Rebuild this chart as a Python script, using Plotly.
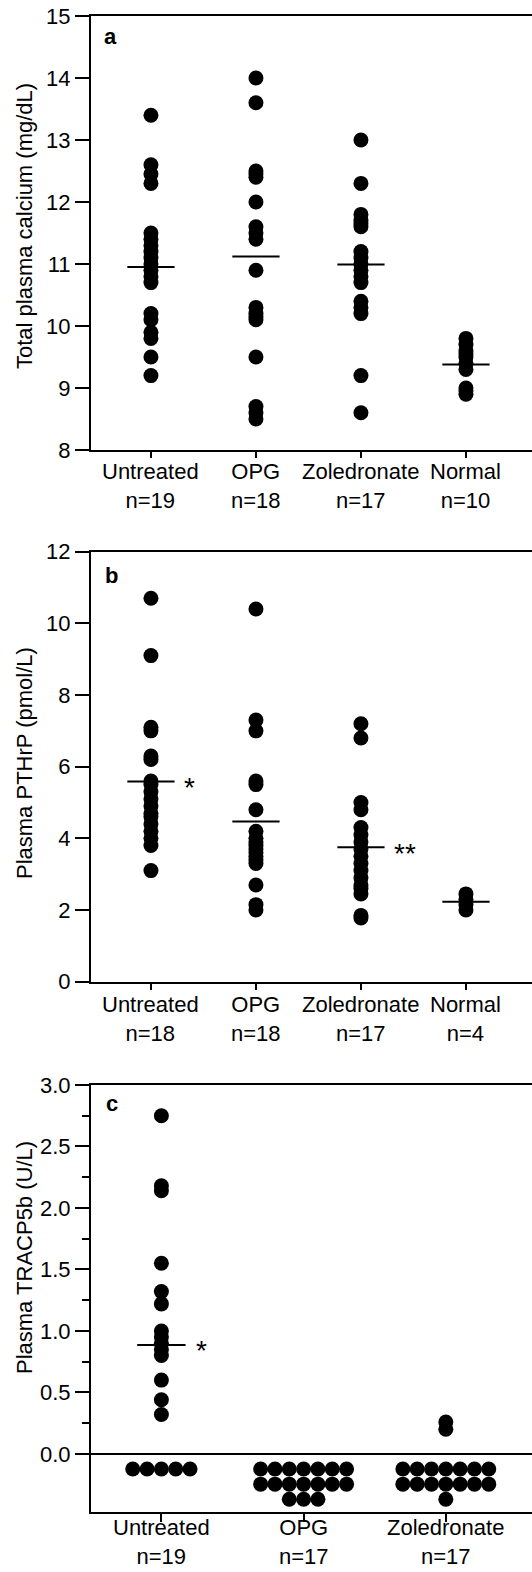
import math
import plotly.graph_objects as go

W, H = 532, 1572
FONT = "Liberation Sans, Arial, Helvetica, sans-serif"

# ---------------- Panel a: Total plasma calcium (mg/dL) ----------------
a_groups = ["Untreated", "OPG", "Zoledronate", "Normal"]
a_n = [19, 18, 17, 10]
a_untreated = [13.4, 12.6, 12.45, 12.3, 11.5, 11.4, 11.3, 11.2, 11.1, 11.0,
               10.9, 10.8, 10.7, 10.2, 10.1, 9.9, 9.8, 9.5, 9.2]
a_opg = [14.0, 13.6, 12.5, 12.45, 12.4, 12.0, 11.6, 11.5, 11.4, 10.9,
         10.3, 10.2, 10.15, 10.1, 9.5, 8.7, 8.6, 8.5]
a_zol = [13.0, 12.3, 11.8, 11.7, 11.65, 11.6, 11.2, 11.1, 11.0, 10.9,
         10.8, 10.7, 10.4, 10.3, 10.2, 9.2, 8.6]
a_normal = [9.8, 9.7, 9.6, 9.55, 9.5, 9.4, 9.3, 9.0, 8.95, 8.9]
a_means = [10.95, 11.12, 10.99, 9.38]
a_stars = ["", "", "", ""]
a_yticks = [8, 9, 10, 11, 12, 13, 14, 15]

# ---------------- Panel b: Plasma PTHrP (pmol/L) ----------------
b_groups = ["Untreated", "OPG", "Zoledronate", "Normal"]
b_n = [18, 18, 17, 4]
b_untreated = [10.7, 9.1, 7.1, 7.0, 6.3, 6.2, 5.6, 5.5, 5.3, 5.1, 4.9, 4.7,
               4.6, 4.4, 4.2, 4.0, 3.8, 3.1]
b_opg = [10.4, 7.3, 7.0, 5.6, 5.5, 4.8, 4.2, 4.0, 3.9, 3.8, 3.7, 3.6, 3.5,
         3.4, 3.3, 2.7, 2.15, 2.0]
b_zol = [7.2, 6.8, 5.0, 4.8, 4.3, 4.1, 3.9, 3.7, 3.5, 3.3, 3.1, 2.9, 2.7,
         2.6, 2.45, 1.85, 1.78]
b_normal = [2.45, 2.3, 2.15, 2.0]
b_means = [5.59, 4.47, 3.75, 2.23]
b_stars = ["*", "", "**", ""]
b_yticks = [0, 2, 4, 6, 8, 10, 12]

# ---------------- Panel c: Plasma TRACP5b (U/L) ----------------
c_groups = ["Untreated", "OPG", "Zoledronate"]
c_n = [19, 17, 17]
c_untreated = [2.75, 2.18, 2.14, 1.55, 1.32, 1.22, 1.0, 0.95, 0.9, 0.85,
               0.8, 0.6, 0.44, 0.32]
c_opg = []
c_zol = [0.26, 0.2]
c_undetected = [5, 17, 15]          # values below detection limit
c_means = [0.886, None, None]
c_stars = ["*", "", ""]
c_yticks = [0.0, 0.5, 1.0, 1.5, 2.0, 2.5, 3.0]
c_minor = [0.25, 0.75, 1.25, 1.75, 2.25, 2.75]

# ---------------- layout geometry (pixels) ----------------
LEFT = 91
panels = [
    dict(top=16, bot=450, x0=-0.571, x1=3.629, yr=[8, 15], lab=486, tl=6),
    dict(top=551.7, bot=981.7, x0=-0.571, x1=3.629, yr=[0, 12], lab=1019, tl=6),
    dict(top=1085, bot=1511.7, x0=-0.495, x1=2.606, yr=[-0.47, 3.0], lab=1542, tl=8),
]

fig = go.Figure()
DOT = dict(color="black", size=15, line=dict(width=0))


def add_dots(values_by_group, k):
    xs, ys = [], []
    for g, vals in enumerate(values_by_group):
        xs += [g] * len(vals)
        ys += vals
    fig.add_trace(go.Scatter(x=xs, y=ys, mode="markers", marker=DOT,
                             xaxis=f"x{k}", yaxis=f"y{k}",
                             showlegend=False, hoverinfo="y"))


def add_means(means, stars, k, half, star_dx):
    for g, m in enumerate(means):
        if m is None:
            continue
        fig.add_trace(go.Scatter(x=[g - half, g + half], y=[m, m], mode="lines",
                                 line=dict(color="black", width=2),
                                 xaxis=f"x{k}", yaxis=f"y{k}",
                                 showlegend=False, hoverinfo="skip"))
        if stars[g]:
            fig.add_annotation(x=g + half + star_dx, y=m, text=stars[g],
                               xref=f"x{k}", yref=f"y{k}", xanchor="left",
                               yanchor="middle", showarrow=False, yshift=-6,
                               font=dict(family=FONT, size=28, color="black"))


add_dots([a_untreated, a_opg, a_zol, a_normal], 1)
add_means(a_means, a_stars, 1, 0.225, 0.07)
add_dots([b_untreated, b_opg, b_zol, b_normal], 2)
add_means(b_means, b_stars, 2, 0.225, 0.07)
add_dots([c_untreated, c_opg, c_zol], 3)
# undetectable values laid out as a beeswarm below zero
ROW_MAX, DX, DY = 7, 0.1007, 0.123
bx, by = [], []
for g, cnt in enumerate(c_undetected):
    nrows = math.ceil(cnt / ROW_MAX)
    for r in range(nrows):
        k = min(ROW_MAX, cnt - r * ROW_MAX)
        for j in range(k):
            bx.append(g + (j - (k - 1) / 2) * DX)
            by.append(-(r + 1) * DY)
fig.add_trace(go.Scatter(x=bx, y=by, mode="markers", marker=DOT,
                         xaxis="x3", yaxis="y3", showlegend=False,
                         hoverinfo="skip"))
add_means(c_means, c_stars, 3, 0.17, 0.06)

groups = [a_groups, b_groups, c_groups]
ns = [a_n, b_n, c_n]
yticks = [a_yticks, b_yticks, c_yticks]
ytext = [[str(v) for v in a_yticks], [str(v) for v in b_yticks],
         [f"{v:.1f}" for v in c_yticks]]
ytitles = ["Total plasma calcium (mg/dL)", "Plasma PTHrP (pmol/L)",
           "Plasma TRACP5b (U/L)"]
ytitle_center = [226, 763, 1258]
letters = ["a", "b", "c"]
letter_pos = [(110, 36), (111.5, 575), (111.5, 1103)]

layout = dict(width=W, height=H, margin=dict(l=0, r=0, t=0, b=0),
              paper_bgcolor="white", plot_bgcolor="white",
              font=dict(family=FONT, size=22, color="black"),
              showlegend=False)

for i, p in enumerate(panels):
    k = i + 1
    sfx = "" if k == 1 else str(k)
    ydom = [1 - p["bot"] / H, 1 - p["top"] / H]
    layout[f"xaxis{sfx}"] = dict(
        domain=[LEFT / W, 1], range=[p["x0"], p["x1"]], anchor=f"y{k}",
        showline=True, linewidth=2, linecolor="black", mirror=True,
        ticks="outside", ticklen=p["tl"], tickwidth=1.5, tickcolor="black",
        tickvals=list(range(len(groups[i]))), showticklabels=False,
        showgrid=False, zeroline=False, automargin=False, fixedrange=True)
    ya = dict(
        domain=ydom, range=p["yr"], anchor=f"x{k}",
        showline=True, linewidth=2, linecolor="black", mirror=False,
        ticks="outside", ticklen=14, tickwidth=1.5, tickcolor="black",
        tickvals=yticks[i], ticktext=ytext[i], tickfont=dict(size=22),
        showgrid=False, zeroline=(k == 3), zerolinecolor="black",
        zerolinewidth=2, automargin=False, fixedrange=True)
    if k == 3:
        ya["minor"] = dict(tickmode="array", tickvals=c_minor, ticklen=7,
                           tickwidth=1.5, tickcolor="black", ticks="outside")
    layout[f"yaxis{sfx}"] = ya

fig.update_layout(**layout)

for i, p in enumerate(panels):
    k = i + 1
    # category labels (two lines) under each tick
    for g, (name, n) in enumerate(zip(groups[i], ns[i])):
        fig.add_annotation(
            x=g, y=1 - p["lab"] / H, xref=f"x{k}", yref="paper",
            text=f"{name}<br>n={n}", showarrow=False,
            xanchor="center", yanchor="middle", align="center",
            font=dict(family=FONT, size=22, color="black"))
    fig.add_annotation(
        x=24 / W, y=1 - ytitle_center[i] / H, xref="paper", yref="paper",
        text=ytitles[i], textangle=-90, showarrow=False,
        xanchor="center", yanchor="middle",
        font=dict(family=FONT, size=22, color="black"))
    lx, ly = letter_pos[i]
    fig.add_annotation(
        x=lx / W, y=1 - ly / H, xref="paper", yref="paper",
        text=f"<b>{letters[i]}</b>", showarrow=False,
        xanchor="center", yanchor="middle",
        font=dict(family=FONT, size=22, color="black"))

fig.write_html(
    "out.html",
    config={"displayModeBar": False},
    post_script="document.body.style.margin='0';"
                "document.documentElement.style.overflow='hidden';")
